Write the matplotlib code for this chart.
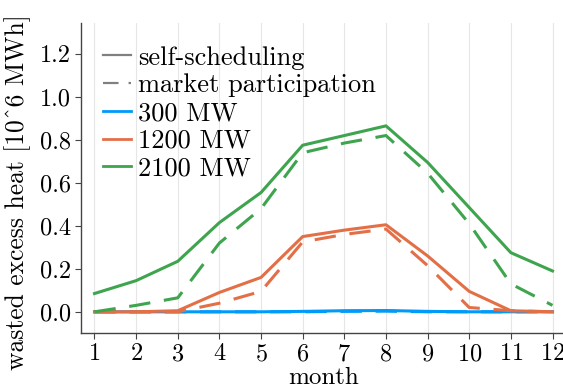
import matplotlib
matplotlib.use("Agg")
import matplotlib.pyplot as plt
from matplotlib.lines import Line2D

# monthly wasted excess heat [10^6 MWh]
months = list(range(1, 13))

# 300 MW
heat_300_self = [0.0, 0.0, 0.0, 0.0, 0.0, 0.002, 0.005, 0.006, 0.002, 0.0, 0.0, 0.0]
heat_300_market = [0.0, 0.0, 0.0, 0.0, 0.0, 0.0, 0.002, 0.003, 0.0, 0.0, 0.0, 0.0]

# 1200 MW
heat_1200_self = [0.0, 0.0, 0.005, 0.09, 0.16, 0.35, 0.38, 0.405, 0.26, 0.095, 0.005, 0.0]
heat_1200_market = [0.0, 0.0, 0.0, 0.04, 0.095, 0.325, 0.36, 0.385, 0.215, 0.02, 0.005, 0.0]

# 2100 MW
heat_2100_self = [0.085, 0.145, 0.235, 0.415, 0.555, 0.775, 0.82, 0.865, 0.695, 0.485, 0.275, 0.19]
heat_2100_market = [0.0, 0.03, 0.065, 0.32, 0.48, 0.74, 0.785, 0.82, 0.645, 0.41, 0.13, 0.03]

blue = "#009AFA"
orange = "#E36F47"
green = "#3EA44E"

plt.rcParams["font.family"] = ["cmr10", "DejaVu Serif"]
plt.rcParams["axes.formatter.use_mathtext"] = True

fig = plt.figure(figsize=(5.63, 3.89), dpi=100)
ax = fig.add_axes([81 / 563, 1 - 333.3 / 389, (566 - 81) / 563, (333.3 - 22.7) / 389])

lw = 2.2
dash = (7, 4.5)
ax.plot(months, heat_300_self, color=blue, lw=lw)
ax.plot(months, heat_300_market, color=blue, lw=lw, ls=(0, dash))
ax.plot(months, heat_1200_self, color=orange, lw=lw)
ax.plot(months, heat_1200_market, color=orange, lw=lw, ls=(0, dash))
ax.plot(months, heat_2100_self, color=green, lw=lw)
ax.plot(months, heat_2100_market, color=green, lw=lw, ls=(0, dash))

ax.set_xlim(0.676, 12.324)
ax.set_ylim(-0.1, 1.345)
ax.set_xticks(months)
ax.set_yticks([0.0, 0.2, 0.4, 0.6, 0.8, 1.0, 1.2])
ax.set_yticklabels(["0.0", "0.2", "0.4", "0.6", "0.8", "1.0", "1.2"])

ax.grid(axis="x", color="#e6e6e6", lw=0.8)
ax.set_axisbelow(True)
for side in ["top", "right"]:
    ax.spines[side].set_visible(False)
for side in ["left", "bottom"]:
    ax.spines[side].set_color("#444444")
    ax.spines[side].set_linewidth(1.0)
ax.tick_params(direction="out", length=4, width=0.8, color="#444444",
               labelsize=17.5, pad=3)

ax.set_xlabel("month", fontsize=18, labelpad=1)
ax.set_ylabel("wasted excess heat [10^6 MWh]", fontsize=18.4)
ax.yaxis.set_label_coords(-0.103, 0.455)

handles = [
    Line2D([], [], color="gray", lw=1.6),
    Line2D([], [], color="gray", lw=1.6, ls=(0, (7, 4.5))),
    Line2D([], [], color=blue, lw=2),
    Line2D([], [], color=orange, lw=2),
    Line2D([], [], color=green, lw=2),
]
labels = ["self-scheduling", "market participation", "300 MW", "1200 MW", "2100 MW"]
ax.legend(handles, labels, loc="upper left", bbox_to_anchor=(0.045, 0.925),
          frameon=False, fontsize=19, handlelength=1.06, handletextpad=0.27,
          labelspacing=0.15, borderaxespad=0.0, borderpad=0.0)

fig.savefig("out.png", dpi=100)
